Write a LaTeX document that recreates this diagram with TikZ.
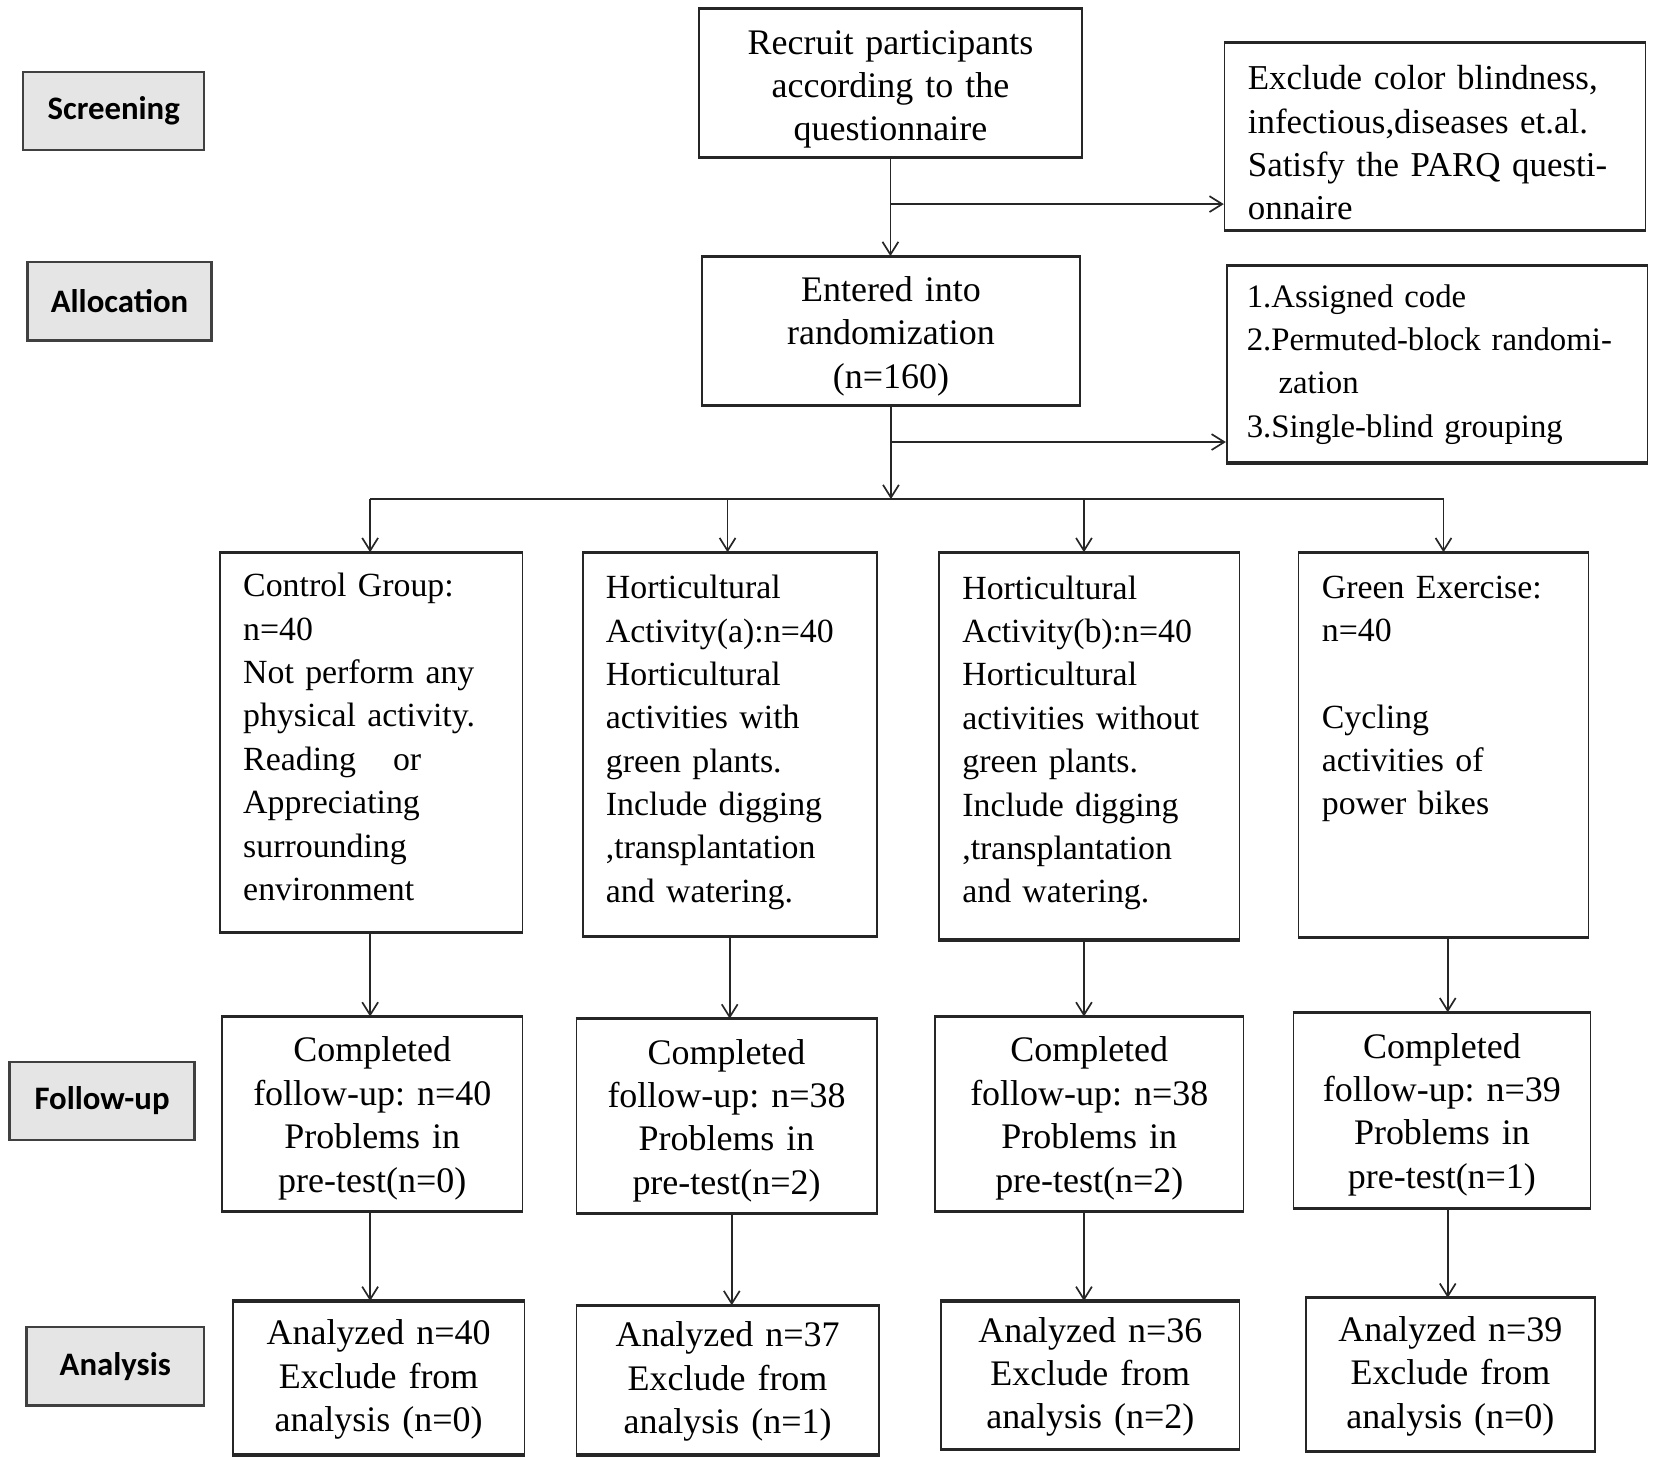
\documentclass[tikz,border=0pt]{standalone}
\usepackage{fontspec}
\setmainfont{Liberation Serif}
\newfontfamily\labelfont{Carlito}
\usetikzlibrary{arrows.meta}
\frenchspacing
\begin{document}
\frenchspacing
\begin{tikzpicture}[x=1pt,y=-1pt,
  box/.style={draw=black!85, line width=1.6pt, inner sep=0pt},
  cbox/.style={box, align=center},
  lbox/.style={box, align=left},
  tshift/.style={execute at end node={\endgraf\vspace*{#1}}},
  fa/.style={font=\fontsize{34}{41}\selectfont},
  fb/.style={font=\fontsize{32}{41}\selectfont},
  fc/.style={font=\fontsize{34}{41}\selectfont},
  stage/.style={draw=black!75, fill=black!10, line width=2.2pt, inner sep=0pt,
    minimum height=74pt, font=\labelfont\bfseries\fontsize{31}{36}\selectfont},
  arr/.style={-{Straight Barb[length=12pt,width=15pt,line width=1.6pt]}, line width=1.6pt, draw=black!85},
  ln/.style={line width=1.6pt, draw=black!85},
  edge/.style={line width=3pt, draw=black!85}]
\useasboundingbox (0,0) rectangle (1565,1380);

% stage labels
\node[stage, minimum width=171pt] (sScreen) at (107.5,105) {Screening};
\node[stage, minimum width=174pt] (sAlloc) at (113,285) {Allocation};
\node[stage, minimum width=175pt] (sFollow) at (96.5,1041) {Follow-up};
\node[stage, minimum width=168pt] (sAnal) at (109,1292) {Analysis};

% top boxes
\node[cbox, fa, tshift=-12pt, minimum width=362pt, minimum height=139pt, text width=340pt] (recruit) at (842,78.5)
  {Recruit participants\\according to the\\questionnaire};
\node[lbox, tshift=-12pt, font=\fontsize{33}{41}\selectfont, minimum width=398pt, minimum height=176pt, text width=354pt] (exclude) at (1357,129)
  {Exclude color blindness,\\infectious,diseases et.al.\\Satisfy the PARQ questi-\\onnaire};
\node[cbox, fa, tshift=-10pt, minimum width=357pt, minimum height=140pt, text width=340pt] (entered) at (842.5,313)
  {Entered into\\randomization\\(n=160)};
\node[lbox, font=\fontsize{31}{41}\selectfont, minimum width=398pt, minimum height=185pt, text width=360pt] (assigned) at (1359,344.5)
  {1.Assigned code\\2.Permuted-block randomi-\\\hspace*{30pt}zation\\3.Single-blind grouping};

% group boxes
\node[lbox, fb, tshift=10pt, minimum width=286pt, minimum height=358pt, text width=242pt] (ctrl) at (351,702)
  {Control Group:\\n=40\\Not perform any\\physical activity.\\Reading\hspace{35pt}or\\Appreciating\\surrounding\\environment};
\node[lbox, fb, tshift=4pt, minimum width=278pt, minimum height=362pt, text width=234pt] (hortA) at (690,704)
  {Horticultural\\Activity(a):n=40\\Horticultural\\activities with\\green plants.\\Include digging\\,transplantation\\and watering.};
\node[lbox, fb, tshift=6pt, minimum width=284pt, minimum height=365pt, text width=240pt] (hortB) at (1030,705.5)
  {Horticultural\\Activity(b):n=40\\Horticultural\\activities without\\green plants.\\Include digging\\,transplantation\\and watering.};
\node[lbox, fb, tshift=12pt, minimum width=274pt, minimum height=363pt, text width=230pt] (green) at (1365,704.5)
  {Green Exercise:\\n=40\\~\\Cycling\\activities of\\power bikes\\~\\~};

% follow-up boxes
\node[cbox, fc, tshift=-8pt, minimum width=284pt, minimum height=183pt, text width=270pt] (fu1) at (352,1053.5)
  {Completed\\follow-up: n=40\\Problems in\\pre-test(n=0)};
\node[cbox, fc, tshift=-8pt, minimum width=284pt, minimum height=183pt, text width=270pt] (fu2) at (687,1055.5)
  {Completed\\follow-up: n=38\\Problems in\\pre-test(n=2)};
\node[cbox, fc, tshift=-8pt, minimum width=292pt, minimum height=183pt, text width=270pt] (fu3) at (1030,1053.5)
  {Completed\\follow-up: n=38\\Problems in\\pre-test(n=2)};
\node[cbox, fc, tshift=-8pt, minimum width=281pt, minimum height=184pt, text width=270pt] (fu4) at (1363.5,1050)
  {Completed\\follow-up: n=39\\Problems in\\pre-test(n=1)};

% analysis boxes
\node[cbox, fc, tshift=-3pt, minimum width=276pt, minimum height=144pt, text width=262pt] (an1) at (358,1303)
  {Analyzed n=40\\Exclude from\\analysis (n=0)};
\node[cbox, fc, tshift=-3pt, minimum width=286pt, minimum height=140pt, text width=262pt] (an2) at (688,1305)
  {Analyzed n=37\\Exclude from\\analysis (n=1)};
\node[cbox, fc, tshift=-3pt, minimum width=282pt, minimum height=139pt, text width=262pt] (an3) at (1031,1300.5)
  {Analyzed n=36\\Exclude from\\analysis (n=2)};
\node[cbox, fc, tshift=-3pt, minimum width=273pt, minimum height=144pt, text width=262pt] (an4) at (1371.5,1300)
  {Analyzed n=39\\Exclude from\\analysis (n=0)};

% thicker top and bottom edges
\foreach \n in {recruit,exclude,entered,assigned,ctrl,hortA,hortB,green,fu1,fu2,fu3,fu4,an1,an2,an3,an4}
  \draw[edge] (\n.north west) -- (\n.north east) (\n.south west) -- (\n.south east);

% connectors
\coordinate (b1) at (842,193);
\coordinate (b2) at (842,418);
\coordinate (hub) at (842,472);
\coordinate (h1) at (350,472);
\coordinate (h2) at (688,472);
\coordinate (h3) at (1025,472);
\coordinate (h4) at (1365,472);
\draw[arr] (recruit.south) -- (recruit.south |- entered.north);
\draw[arr] (b1) -- (exclude.west |- b1);
\draw[arr] (entered.south) -- (entered.south |- hub);
\draw[arr] (b2) -- (assigned.west |- b2);
\draw[ln] (h1) -- (h4);
\draw[arr] (h1) -- (h1 |- ctrl.north);
\draw[arr] (h2) -- (h2 |- hortA.north);
\draw[arr] (h3) -- (h3 |- hortB.north);
\draw[arr] (h4) -- (h4 |- green.north);
\coordinate (v1) at (350,0);
\coordinate (v2) at (690,0);
\coordinate (v3) at (1025,0);
\coordinate (v4) at (1369,0);
\draw[arr] (v1 |- ctrl.south) -- (v1 |- fu1.north);
\draw[arr] (v2 |- hortA.south) -- (v2 |- fu2.north);
\draw[arr] (v3 |- hortB.south) -- (v3 |- fu3.north);
\draw[arr] (v4 |- green.south) -- (v4 |- fu4.north);
\coordinate (w2) at (692,0);
\draw[arr] (v1 |- fu1.south) -- (v1 |- an1.north);
\draw[arr] (w2 |- fu2.south) -- (w2 |- an2.north);
\draw[arr] (v3 |- fu3.south) -- (v3 |- an3.north);
\draw[arr] (v4 |- fu4.south) -- (v4 |- an4.north);
\end{tikzpicture}
\end{document}
